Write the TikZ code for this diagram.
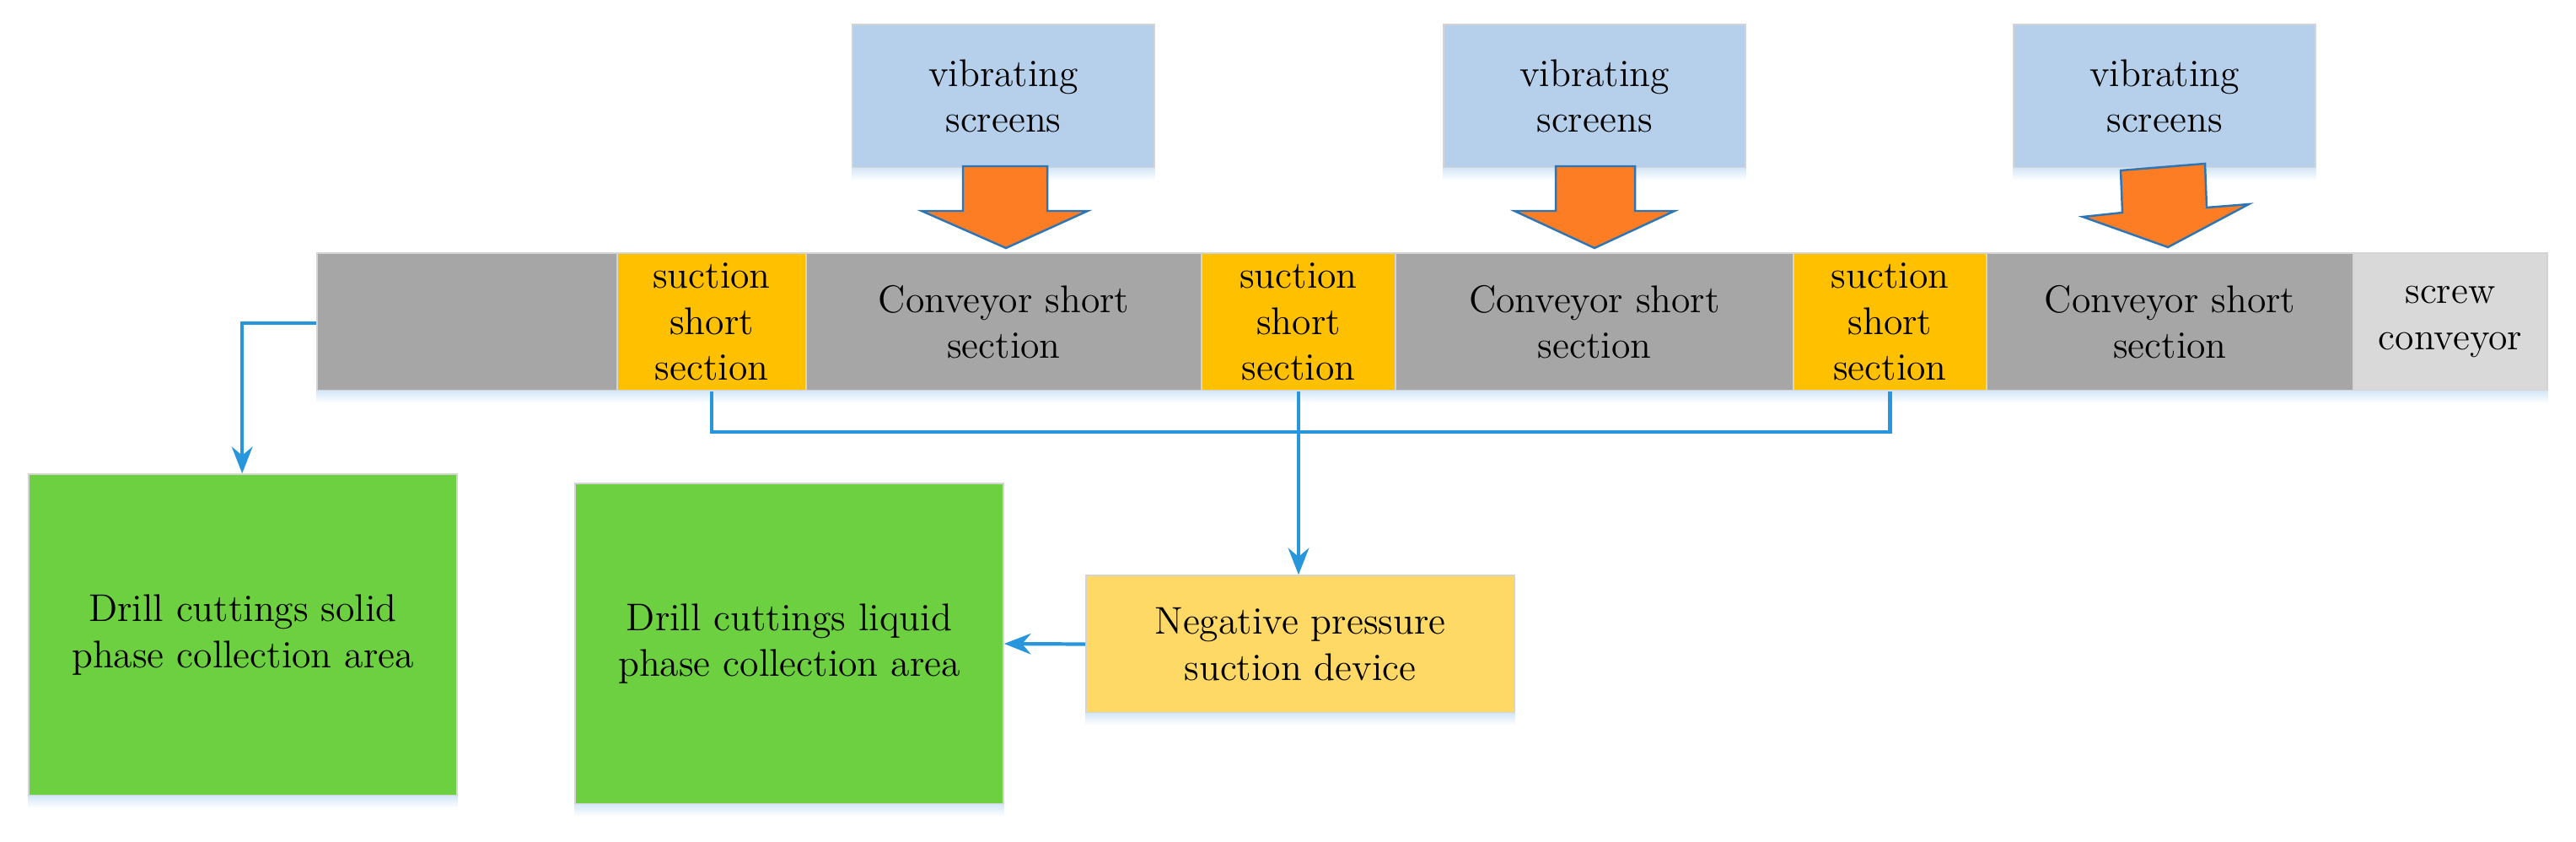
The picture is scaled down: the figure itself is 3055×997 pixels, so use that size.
\documentclass[tikz,border=0pt]{standalone}
\usetikzlibrary{arrows.meta}
\definecolor{vsblue}{RGB}{182,207,234}
\definecolor{stripgray}{RGB}{166,166,166}
\definecolor{suctgold}{RGB}{255,192,0}
\definecolor{screwgray}{RGB}{217,217,217}
\definecolor{zonegreen}{RGB}{108,208,64}
\definecolor{negyellow}{RGB}{255,217,102}
\definecolor{fatorange}{RGB}{252,125,35}
\definecolor{fatedge}{RGB}{46,117,182}
\definecolor{linkblue}{RGB}{40,150,220}
\definecolor{shadowc}{RGB}{214,232,247}
\definecolor{edgec}{RGB}{212,212,212}
\begin{document}
\begin{tikzpicture}[x=0.01cm,y=-0.01cm,
  box/.style={draw=edgec, line width=0.4pt, inner sep=0pt, align=center,
    font=\fontsize{13pt}{15.5pt}\selectfont, text=black},
  vsbox/.style={box, fill=vsblue, minimum width=3.58cm, minimum height=1.70cm},
  graybox/.style={box, fill=stripgray, minimum height=1.63cm},
  suctbox/.style={box, fill=suctgold, minimum height=1.63cm},
  screwbox/.style={box, fill=screwgray, minimum height=1.63cm},
  greenbox/.style={box, fill=zonegreen, minimum width=5.08cm, minimum height=3.80cm},
  negbox/.style={box, fill=negyellow, minimum width=5.08cm, minimum height=1.63cm},
  fatarrow/.style={fill=fatorange, draw=fatedge, line width=0.7pt, line join=miter},
  link/.style={draw=linkblue, line width=1.2pt},
  linkarrow/.style={link, -{Stealth[length=9pt,width=7pt]}}]
\useasboundingbox (0,0) rectangle (3055,997);

% vibrating screens
\node[vsbox] (vs1) at (1190,114) {vibrating\\screens};
\node[vsbox] (vs2) at (1891,114) {vibrating\\screens};
\node[vsbox] (vs3) at (2567,114) {vibrating\\screens};

% conveyor strip
\node[graybox, minimum width=3.56cm] (g0) at (554,381.5) {};
\node[suctbox, minimum width=2.24cm] (s1) at (844,381.5) {suction\\short\\section};
\node[graybox, minimum width=4.69cm] (c1) at (1190.5,381.5) {Conveyor short\\section};
\node[suctbox, minimum width=2.30cm] (s2) at (1540,381.5) {suction\\short\\section};
\node[graybox, minimum width=4.72cm] (c2) at (1891,381.5) {Conveyor short\\section};
\node[suctbox, minimum width=2.29cm] (s3) at (2241.5,381.5) {suction\\short\\section};
\node[graybox, minimum width=4.35cm] (c3) at (2573.5,381.5) {Conveyor short\\section};
\node[screwbox, minimum width=2.30cm] (sc) at (2906,381.5) {screw\\conveyor};

% lower boxes
\node[greenbox, minimum height=3.81cm] (solid) at (288,752.5) {Drill cuttings solid\\phase collection area};
\node[greenbox] (liquid) at (936,763) {Drill cuttings liquid\\phase collection area};
\node[negbox] (neg) at (1542,763.5) {Negative pressure\\suction device};

% soft shadows
\foreach \n in {vs1,vs2,vs3,solid,liquid,neg}{
  \shade[top color=shadowc, bottom color=white]
    (\n.south west) rectangle ([yshift=-0.14cm]\n.south east);
}
\shade[top color=shadowc, bottom color=white]
  (g0.south west) rectangle ([yshift=-0.14cm]sc.south east);

% fat orange arrows
\draw[fatarrow] (1142,197) -- (1242,197) -- (1242,250) -- (1290,250) -- (1193,294)
  -- (1093,250) -- (1142,250) -- cycle;
\draw[fatarrow] (1845,197) -- (1939,197) -- (1939,250) -- (1986,250) -- (1891,294)
  -- (1796,250) -- (1845,250) -- cycle;
\draw[fatarrow] (2515,202) -- (2615,194) -- (2617,246) -- (2667,242) -- (2571,293)
  -- (2470,257) -- (2517,252) -- cycle;

% blue connectors
\coordinate (gl) at ([yshift=-0.015cm]g0.west);
\draw[linkarrow] (gl) -- ++(-88,0) coordinate (gbend) -- (gbend |- solid.north);
\draw[link] (s1.south) -- ++(0,48) -| (s3.south);
\draw[linkarrow] (s2.south) -- (s2.south |- neg.north);
\draw[linkarrow] (neg.west) -- (liquid.east);
\end{tikzpicture}
\end{document}
